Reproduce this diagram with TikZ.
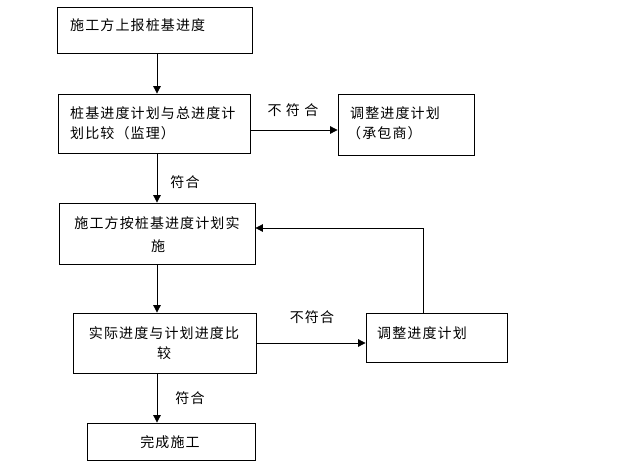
\documentclass[tikz,border=0pt]{standalone}
\usepackage{fontspec}
\newfontfamily\cjk[LetterSpace=8]{Noto Sans CJK SC}
\usetikzlibrary{arrows.meta}
\begin{document}
\begin{tikzpicture}[x=1pt,y=-1pt,
  box/.style={draw, line width=0.8pt, inner sep=0pt, rectangle},
  txt/.style={inner sep=0pt, font=\cjk\fontsize{14}{16}\selectfont},
  conn/.style={line width=0.8pt, -{Triangle[length=7.5pt,width=7.5pt]}},
  plain/.style={line width=0.8pt}]
\useasboundingbox (0,0) rectangle (632,464);
% boxes
\node[box, minimum width=195pt, minimum height=46pt] (b1) at (154.5,30) {};
\node[box, minimum width=192pt, minimum height=59pt] (b2) at (154,123.5) {};
\node[box, minimum width=136pt, minimum height=61pt] (b3) at (406,124.5) {};
\node[box, minimum width=196pt, minimum height=61pt] (b4) at (157,233.5) {};
\node[box, minimum width=183pt, minimum height=60pt] (b5) at (164.5,343) {};
\node[box, minimum width=141pt, minimum height=49pt] (b6) at (436.5,337.5) {};
\node[box, minimum width=168pt, minimum height=37pt] (b7) at (171,441.5) {};
% texts
\node[txt, anchor=west] (t1) at (70,25) {施工方上报桩基进度};
\node[txt, anchor=west] (t2a) at (70,113) {桩基进度计划与总进度计};
\node[txt, anchor=west] (t2b) at (70,133) {划比较（监理）};
\node[txt, anchor=west] (t3a) at (350,113) {调整进度计划};
\node[txt, anchor=west] (t3b) at (347,133) {（承包商）};
\node[txt] (t4a) at (157,223) {施工方按桩基进度计划实};
\node[txt] (t4b) at (158,246) {施};
\node[txt] (t5a) at (164,333) {实际进度与计划进度比};
\node[txt] (t5b) at (164,353) {较};
\node[txt, anchor=west] (t6) at (377,333) {调整进度计划};
\node[txt] (t7) at (170,442) {完成施工};
% labels
\node[txt] (l1) at (293,110) {不 符 合};
\node[txt] (l2) at (185,182) {符合};
\node[txt] (l3) at (312,317) {不符合};
\node[txt] (l4) at (190,398) {符合};
% connectors
\coordinate (h1) at (0,130);
\coordinate (fb) at (423,228);
\draw[conn] (b1.south -| b4.north) -- (b2.north -| b4.north);
\draw[conn] (b2.east |- h1) -- (b3.west |- h1);
\draw[conn] (b2.south -| b4.north) -- (b4.north);
\draw[conn] (b4.south) -- (b4.south |- b5.north);
\draw[conn] (b5.east) -- (b5.east -| b6.west);
\draw[conn] (b5.south -| b4.south) -- (b4.south |- b7.north);
\draw[conn] (b6.north -| fb) -- (fb) -- (fb -| b4.east);
\end{tikzpicture}
\end{document}
